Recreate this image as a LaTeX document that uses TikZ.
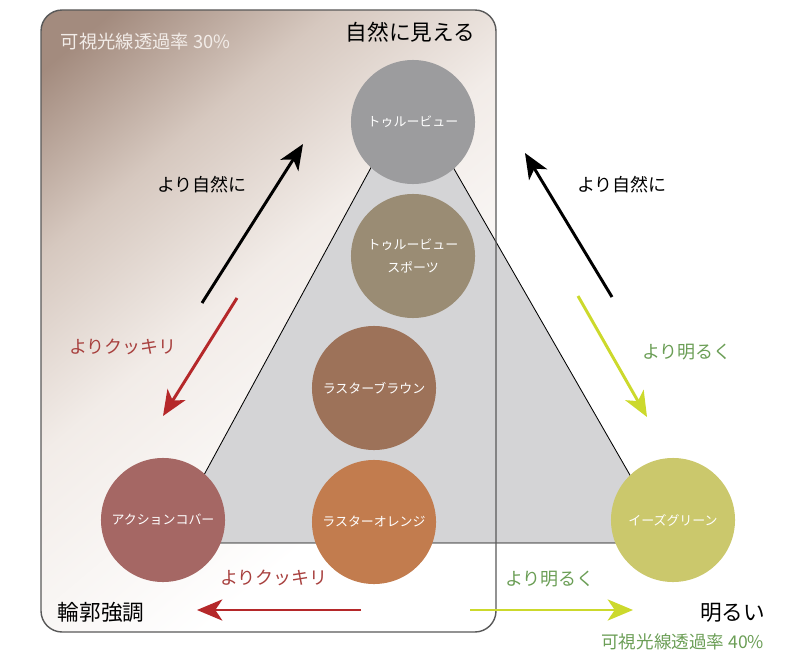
\documentclass[tikz,border=0pt]{standalone}
\usepackage{fontspec}
\usepackage{tikz}
\usepackage{xcolor}
\usetikzlibrary{arrows.meta}
\newfontfamily\jpfont{Noto Sans CJK JP}
\definecolor{lensgray}{HTML}{9C9C9E}
\definecolor{lenssport}{HTML}{9A8C74}
\definecolor{lensbrown}{HTML}{9D7259}
\definecolor{lensorange}{HTML}{C27C4E}
\definecolor{lensaction}{HTML}{A56764}
\definecolor{lensgreen}{HTML}{CBC86C}
\definecolor{trigray}{HTML}{D4D4D6}
\definecolor{framebrown}{HTML}{A38B7E}
\definecolor{framemid}{HTML}{D6C8BF}
\definecolor{framelight}{HTML}{F2ECE8}
\definecolor{arrred}{HTML}{B5282A}
\definecolor{arryellow}{HTML}{CCD92C}
\definecolor{txtred}{HTML}{A8403E}
\definecolor{txtgreen}{HTML}{6B9E56}
\pgfdeclarehorizontalshading{frameshade}{100bp}{color(0bp)=(framebrown); color(19bp)=(framebrown); color(32bp)=(framemid); color(46bp)=(framelight); color(68bp)=(white); color(100bp)=(white)}

\begin{document}
\begin{tikzpicture}[x=0.025cm, y=-0.025cm, font=\jpfont,
	lens/.style={circle, minimum size=3.1cm, inner sep=0pt, text=white, font=\jpfont\fontsize{9.2}{14}\selectfont, align=center},
	arr/.style={line width=2.1pt, -{Stealth[length=18pt, width=15pt, inset=5pt]}},
	lbl/.style={font=\jpfont\fontsize{12.8}{15}\selectfont},
	big/.style={font=\jpfont\fontsize{15.4}{18}\selectfont}]
	\useasboundingbox (0, 0) rectangle (802, 663);
	% Frame and triangle:
	\shade[rounded corners=15, shading=frameshade, shading angle=-50] (41, 10) rectangle (496, 632);
	\coordinate (T1) at (411, 94);
	\coordinate (T2) at (167, 543);
	\coordinate (T3) at (669, 543);
	\filldraw[fill=trigray, draw=black, line width=0.6pt] (T1) -- (T2) -- (T3) -- cycle;
	% Lenses:
	\node[lens, fill=lensgray](L1) at (413, 122){トゥルービュー};
	\node[lens, fill=lenssport](L2) at (413, 256){トゥルービュー\\[2pt]スポーツ};
	\node[lens, fill=lensbrown](L3) at (374, 388){ラスターブラウン};
	\node[lens, fill=lensorange](L4) at (374, 522){ラスターオレンジ};
	\node[lens, fill=lensaction](L5) at (163, 520){アクションコバー};
	\node[lens, fill=lensgreen](L6) at (673, 520){イーズグリーン};
	\draw[rounded corners=15, draw=black!65, line width=1pt] (41, 10) rectangle (496, 632);
	% Arrows:
	\coordinate (A1) at (202, 303); \coordinate (A2) at (303, 144);
	\coordinate (B1) at (612, 297); \coordinate (B2) at (525, 153);
	\coordinate (C1) at (237, 298); \coordinate (C2) at (163, 416);
	\coordinate (D1) at (578, 296); \coordinate (D2) at (647, 417);
	\coordinate (E1) at (361, 610); \coordinate (E2) at (197, 610);
	\coordinate (F1) at (470, 610); \coordinate (F2) at (633, 610);
	\draw[arr, black] (A1) -- (A2);
	\draw[arr, black] (B1) -- (B2);
	\draw[arr, arrred] (C1) -- (C2);
	\draw[arr, arryellow] (D1) -- (D2);
	\draw[arr, arrred] (E1) -- (E2);
	\draw[arr, arryellow] (F1) -- (F2);
	% Labels:
	\node[anchor=west, text=framelight, font=\jpfont\fontsize{13}{15}\selectfont](N1) at (56, 42){可視光線透過率 30\%};
	\node[anchor=east, big](N2) at (480, 32){自然に見える};
	\node[lbl](N3) at (202, 185){より自然に};
	\node[lbl](N4) at (622, 185){より自然に};
	\node[lbl, text=txtred](N5) at (123, 347){よりクッキリ};
	\node[lbl, text=txtgreen](N6) at (687, 352){より明るく};
	\node[lbl, text=txtred](N7) at (274, 578){よりクッキリ};
	\node[lbl, text=txtgreen](N8) at (550, 579){より明るく};
	\node[anchor=west, big](N9) at (53, 612){輪郭強調};
	\node[anchor=east, big](N10) at (770, 613){明るい};
	\node[anchor=east, text=txtgreen, font=\jpfont\fontsize{12.5}{15}\selectfont](N11) at (769, 642){可視光線透過率 40\%};
\end{tikzpicture}
\end{document}
